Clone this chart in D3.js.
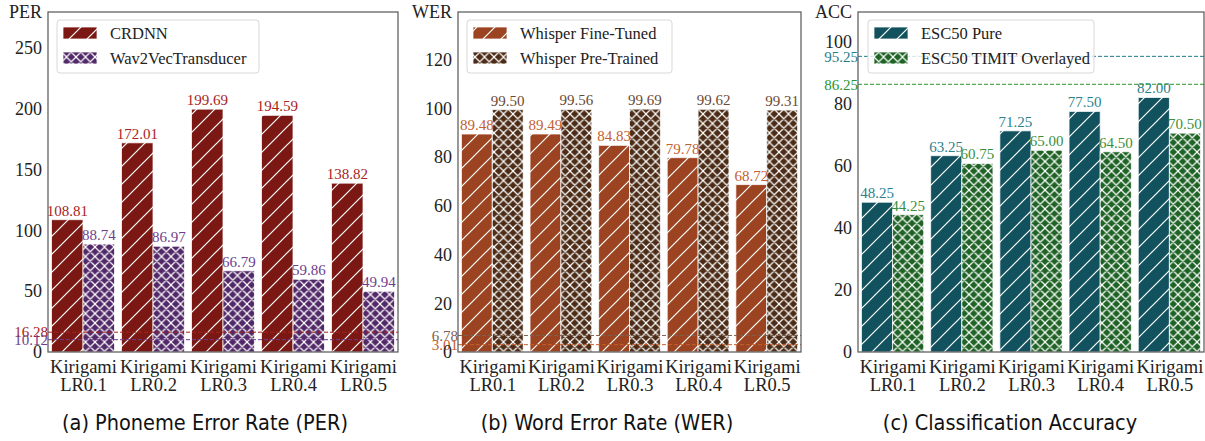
<!DOCTYPE html>
<html>
<head>
<meta charset="utf-8">
<script src="https://cdn.jsdelivr.net/npm/d3@7"></script>
<style>
  html, body { margin: 0; padding: 0; background: #fff; }
  svg { display: block; }
</style>
</head>
<body>
<svg id="chart" width="1205" height="441"></svg>
<script>
// ---- data ----
const catTop = ["Kirigami", "Kirigami", "Kirigami", "Kirigami", "Kirigami"];
const catBottom = ["LR0.1", "LR0.2", "LR0.3", "LR0.4", "LR0.5"];

const crdnn = [108.81, 172.01, 199.69, 194.59, 138.82];
const wav2vec = [88.74, 86.97, 66.79, 59.86, 49.94];
const perRefs = [16.28, 10.12];
const perTicks = [0, 50, 100, 150, 200, 250];

const whisperFineTuned = [89.48, 89.49, 84.83, 79.78, 68.72];
const whisperPreTrained = [99.50, 99.56, 99.69, 99.62, 99.31];
const werRefs = [6.78, 3.01];
const werTicks = [0, 20, 40, 60, 80, 100, 120];

const escPure = [48.25, 63.25, 71.25, 77.50, 82.00];
const escTimit = [44.25, 60.75, 65.00, 64.50, 70.50];
const accRefs = [95.25, 86.25];
const accTicks = [0, 20, 40, 60, 80, 100];

const captions = ["(a) Phoneme Error Rate (PER)", "(b) Word Error Rate (WER)", "(c) Classification Accuracy"];

// ---- panel setup ----
const SERIF = "'Liberation Serif', 'DejaVu Serif', serif";
const svg = d3.select("#chart");
const defs = svg.append("defs");

// white hatch over a solid fill: sparse "/" lines, or a denser cross-hatch
function makePattern(id, color, cross) {
  const s = cross ? 9.5 : 18;
  const p = defs.append("pattern")
    .attr("id", id).attr("patternUnits", "userSpaceOnUse")
    .attr("width", s).attr("height", s);
  p.append("rect").attr("width", s).attr("height", s).attr("fill", color);
  let d = `M0,${s} L${s},0 M-2,2 L2,-2 M${s - 2},${s + 2} L${s + 2},${s - 2}`;
  if (cross) d += ` M0,0 L${s},${s} M-2,${s - 2} L2,${s + 2} M${s - 2},-2 L${s + 2},2`;
  p.append("path").attr("d", d).attr("stroke", "#fff").attr("stroke-width", 1.2).attr("fill", "none");
  return `url(#${id})`;
}

const panels = [
  {
    left: 48, right: 398, ymax: 199.69 * 1.4, ticks: perTicks, title: "PER", caption: captions[0], capX: 205,
    series: [
      { name: "CRDNN", values: crdnn, color: "#7b1813", label: "#a8231c", cross: false },
      { name: "Wav2VecTransducer", values: wav2vec, color: "#522968", label: "#6e3e8e", cross: true }
    ],
    refs: perRefs, refColors: ["#a8231c", "#6e3e8e"],
    legend: { x: 57, w: 202 }
  },
  {
    left: 458, right: 801, ymax: 99.69 * 1.4, ticks: werTicks, title: "WER", caption: captions[1], capX: 607,
    series: [
      { name: "Whisper Fine-Tuned", values: whisperFineTuned, color: "#9c4421", label: "#c4602e", cross: false },
      { name: "Whisper Pre-Trained", values: whisperPreTrained, color: "#4c2c16", label: "#6a4a35", cross: true }
    ],
    refs: werRefs, refColors: ["#7d6250", "#c4602e"],
    legend: { x: 467, w: 205 }
  },
  {
    left: 858, right: 1204, ymax: 95.25 * 1.15, ticks: accTicks, title: "ACC", caption: captions[2], capX: 1010,
    series: [
      { name: "ESC50 Pure", values: escPure, color: "#11525e", label: "#2c7f8e", cross: false },
      { name: "ESC50 TIMIT Overlayed", values: escTimit, color: "#1e6325", label: "#3a8f3a", cross: true }
    ],
    refs: accRefs, refColors: ["#1f7a8c", "#2a952a"],
    legend: { x: 868, w: 226 }
  }
];

const TOP = 12, BOTTOM = 352;
const barW = 0.45;

panels.forEach((pn, pi) => {
  const x = d3.scaleLinear().domain([-0.5, 4.5]).range([pn.left, pn.right]);
  const y = d3.scaleLinear().domain([0, pn.ymax]).range([BOTTOM, TOP]);
  const g = svg.append("g");
  const fills = pn.series.map((s, si) => makePattern(`hatch-${pi}-${si}`, s.color, s.cross));

  // bars
  pn.series.forEach((s, si) => {
    const off = si === 0 ? -barW : 0;
    g.selectAll(null).data(s.values).enter().append("rect")
      .attr("x", (d, i) => x(i + off))
      .attr("y", d => y(d))
      .attr("width", x(barW) - x(0))
      .attr("height", d => y(0) - y(d))
      .attr("fill", fills[si])
      .attr("stroke", "rgba(255,255,255,0.75)")
      .attr("stroke-width", 1);
  });

  // value labels
  pn.series.forEach((s, si) => {
    const off = si === 0 ? -barW / 2 : barW / 2;
    g.selectAll(null).data(s.values).enter().append("text")
      .attr("x", (d, i) => x(i + off))
      .attr("y", d => y(d) - 4)
      .attr("text-anchor", "middle")
      .attr("font-family", SERIF).attr("font-size", 15)
      .attr("fill", s.label)
      .text(d => d.toFixed(2));
  });

  // reference lines
  pn.refs.forEach((r, ri) => {
    g.append("line")
      .attr("x1", pn.left).attr("x2", pn.right)
      .attr("y1", y(r)).attr("y2", y(r))
      .attr("stroke", pn.refColors[ri]).attr("stroke-width", 1)
      .attr("stroke-dasharray", "4,2");
    g.append("text")
      .attr("x", pn.left).attr("y", y(r))
      .attr("dy", "0.35em")
      .attr("text-anchor", "end")
      .attr("font-family", SERIF).attr("font-size", 15)
      .attr("fill", pn.refColors[ri])
      .text(r.toFixed(2));
  });

  // y axis
  const yAxis = d3.axisLeft(y).tickValues(pn.ticks).tickSize(0).tickPadding(6).tickFormat(d3.format("d"));
  const ya = g.append("g").attr("transform", `translate(${pn.left},0)`).call(yAxis);
  ya.select(".domain").remove();
  ya.selectAll("text").attr("font-family", SERIF).attr("font-size", 18).attr("fill", "#222");

  // x axis (two-line labels)
  const xAxis = d3.axisBottom(x).tickValues(d3.range(5)).tickSize(0).tickFormat(() => "");
  const xa = g.append("g").attr("transform", `translate(0,${BOTTOM})`).call(xAxis);
  xa.select(".domain").remove();
  xa.selectAll(".tick").each(function (d) {
    const t = d3.select(this).append("text")
      .attr("text-anchor", "middle")
      .attr("font-family", SERIF).attr("font-size", 18.5).attr("fill", "#222");
    t.append("tspan").attr("x", 0).attr("y", 21).text(catTop[d]);
    t.append("tspan").attr("x", 0).attr("y", 39).text(catBottom[d]);
  });

  // frame
  g.append("rect")
    .attr("x", pn.left).attr("y", TOP)
    .attr("width", pn.right - pn.left).attr("height", BOTTOM - TOP)
    .attr("fill", "none").attr("stroke", "#555").attr("stroke-width", 1.2);

  // axis title
  g.append("text")
    .attr("x", pn.left - 6).attr("y", 18)
    .attr("text-anchor", "end")
    .attr("font-family", SERIF).attr("font-size", 18).attr("fill", "#222")
    .text(pn.title);

  // legend
  const lg = g.append("g");
  lg.append("rect")
    .attr("x", pn.legend.x).attr("y", 20)
    .attr("width", pn.legend.w).attr("height", 53)
    .attr("rx", 3)
    .attr("fill", "rgba(255,255,255,0.8)")
    .attr("stroke", "#d8d8d8").attr("stroke-width", 1);
  pn.series.forEach((s, si) => {
    const cy = 33 + si * 25;
    lg.append("rect")
      .attr("x", pn.legend.x + 6).attr("y", cy - 6)
      .attr("width", 34).attr("height", 12)
      .attr("fill", fills[si])
      .attr("stroke", "rgba(255,255,255,0.75)").attr("stroke-width", 1);
    lg.append("text")
      .attr("x", pn.legend.x + 53).attr("y", cy)
      .attr("dy", "0.35em")
      .attr("font-family", SERIF).attr("font-size", 16.5).attr("fill", "#222")
      .text(s.name);
  });

  // caption
  svg.append("text")
    .attr("x", pn.capX).attr("y", 430)
    .attr("text-anchor", "middle")
    .attr("font-family", "'DejaVu Sans Condensed', 'DejaVu Sans', sans-serif")
    .attr("font-stretch", "condensed")
    .attr("font-size", 21.5).attr("fill", "#111")
    .text(pn.caption);
});
</script>
</body>
</html>
